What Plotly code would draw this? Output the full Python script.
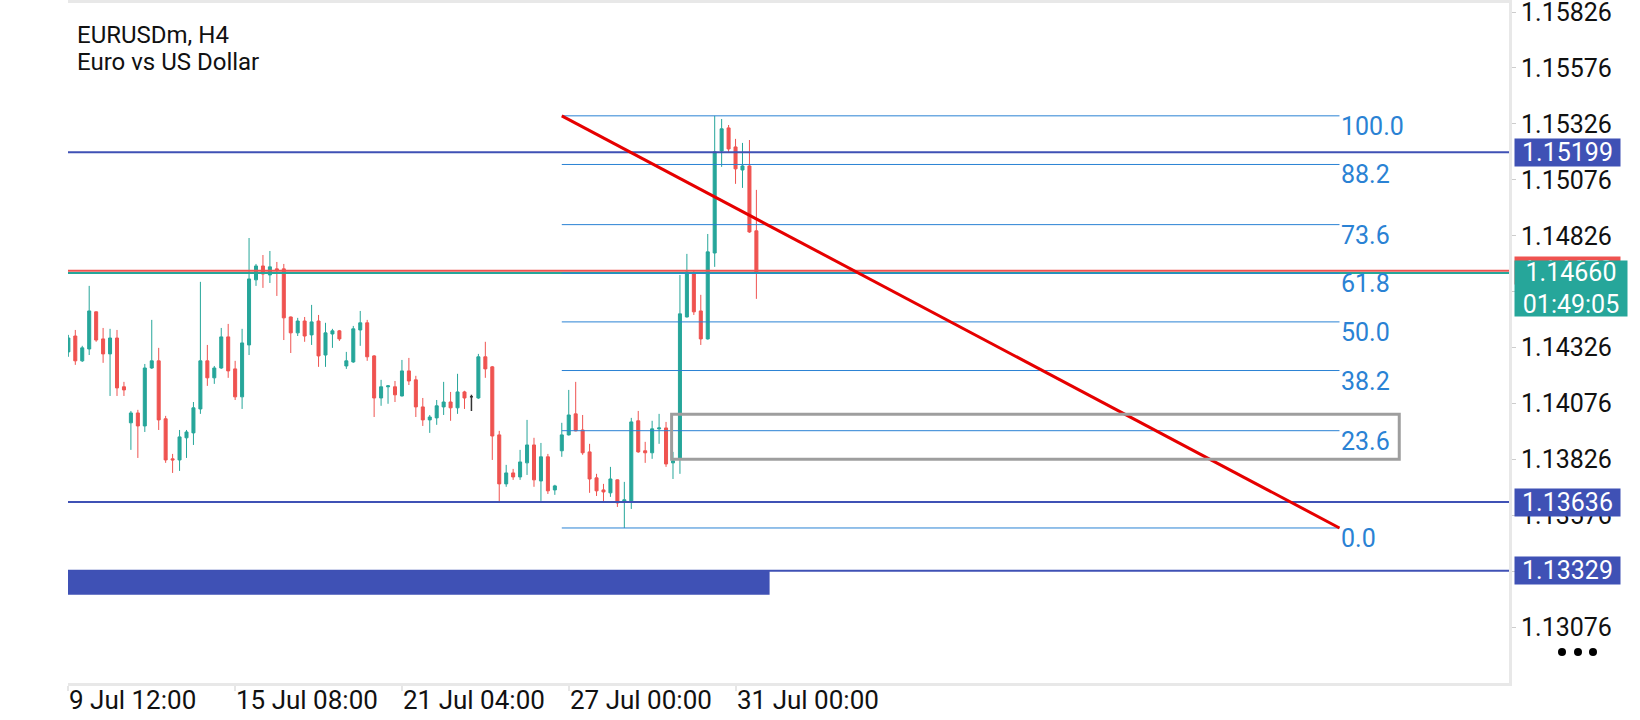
import plotly.graph_objects as go

# H4 bars, index 0 = 9 Jul 12:00 (weekend bars skipped)
bars = list(range(100))
opens = [1.14307, 1.14378, 1.14267, 1.14320, 1.14486, 1.14365, 1.14298, 1.14369, 1.14151, 1.13990,
         1.14034, 1.13976, 1.14235, 1.14267, 1.14008, 1.13829, 1.13824, 1.13923, 1.13945, 1.14052,
         1.14267, 1.14191, 1.14235, 1.14374, 1.14231, 1.14106, 1.14338, 1.14629, 1.14691, 1.14651,
         1.14678, 1.14678, 1.14463, 1.14392, 1.14445, 1.14383, 1.14445, 1.14293, 1.14387, 1.14401,
         1.14244, 1.14262, 1.14405, 1.14437, 1.14289, 1.14101, 1.14151, 1.14151, 1.14110, 1.14222,
         1.14182, 1.14061, 1.14003, 1.14012, 1.14061, 1.14083, 1.14057, 1.14128, 1.14106, 1.14101,
         1.14285, 1.14240, 1.13936, 1.13717, 1.13766, 1.13748, 1.13811, 1.13891, 1.13730, 1.13838,
         1.13690, 1.13865, 1.13936, 1.14030, 1.13958, 1.13860, 1.13744, 1.13690, 1.13677, 1.13735,
         1.13637, 1.13641, 1.13999, 1.13865, 1.13856, 1.13963, 1.13967, 1.13811, 1.13829, 1.14463,
         1.14655, 1.14490, 1.14365, 1.14749, 1.15205, 1.15308, 1.15223, 1.15120, 1.15138, 1.14848]
highs = [1.14383, 1.14405, 1.14334, 1.14602, 1.14488, 1.14414, 1.14410, 1.14405, 1.14173, 1.14043,
         1.14048, 1.14253, 1.14450, 1.14325, 1.14021, 1.13851, 1.13958, 1.13958, 1.14083, 1.14620,
         1.14338, 1.14244, 1.14414, 1.14432, 1.14267, 1.14410, 1.14816, 1.14700, 1.14740, 1.14758,
         1.14709, 1.14700, 1.14465, 1.14459, 1.14463, 1.14517, 1.14472, 1.14437, 1.14410, 1.14405,
         1.14307, 1.14423, 1.14490, 1.14450, 1.14293, 1.14182, 1.14159, 1.14177, 1.14271, 1.14280,
         1.14200, 1.14101, 1.14025, 1.14092, 1.14173, 1.14128, 1.14209, 1.14133, 1.14115, 1.14298,
         1.14352, 1.14244, 1.13954, 1.13802, 1.13784, 1.13869, 1.14003, 1.13923, 1.13900, 1.13851,
         1.13713, 1.13990, 1.14137, 1.14173, 1.14025, 1.13896, 1.13762, 1.13717, 1.13793, 1.13737,
         1.13726, 1.14012, 1.14043, 1.13905, 1.13999, 1.14030, 1.13994, 1.13860, 1.14651, 1.14745,
         1.14673, 1.14562, 1.14834, 1.15362, 1.15348, 1.15321, 1.15259, 1.15241, 1.15254, 1.15031]
lows = [1.14285, 1.14249, 1.14262, 1.14293, 1.14352, 1.14258, 1.14110, 1.14110, 1.14110, 1.13869,
        1.13833, 1.13949, 1.14231, 1.13958, 1.13811, 1.13766, 1.13775, 1.13833, 1.13891, 1.14030,
        1.14155, 1.14164, 1.14231, 1.14191, 1.14092, 1.14052, 1.14293, 1.14602, 1.14593, 1.14615,
        1.14557, 1.14360, 1.14302, 1.14378, 1.14352, 1.14338, 1.14240, 1.14240, 1.14325, 1.14356,
        1.14231, 1.14258, 1.14334, 1.14267, 1.14016, 1.14066, 1.14075, 1.14083, 1.14108, 1.14159,
        1.14016, 1.13976, 1.13945, 1.13981, 1.14025, 1.13999, 1.14030, 1.14052, 1.14043, 1.14097,
        1.14191, 1.13824, 1.13632, 1.13704, 1.13735, 1.13735, 1.13757, 1.13704, 1.13641, 1.13672,
        1.13668, 1.13838, 1.13933, 1.13952, 1.13847, 1.13677, 1.13663, 1.13637, 1.13659, 1.13614,
        1.13520, 1.13605, 1.13856, 1.13811, 1.13829, 1.13896, 1.13793, 1.13739, 1.13762, 1.14461,
        1.14472, 1.14338, 1.14362, 1.14687, 1.15134, 1.15201, 1.15058, 1.15040, 1.14839, 1.14544]
closes = [1.14369, 1.14267, 1.14325, 1.14490, 1.14360, 1.14298, 1.14369, 1.14146, 1.14137, 1.14034,
          1.13976, 1.14235, 1.14267, 1.14003, 1.13824, 1.13824, 1.13927, 1.13949, 1.14057, 1.14267,
          1.14191, 1.14235, 1.14374, 1.14222, 1.14106, 1.14347, 1.14633, 1.14691, 1.14655, 1.14687,
          1.14673, 1.14459, 1.14392, 1.14445, 1.14378, 1.14441, 1.14289, 1.14392, 1.14401, 1.14365,
          1.14267, 1.14410, 1.14437, 1.14285, 1.14101, 1.14151, 1.14155, 1.14115, 1.14222, 1.14177,
          1.14061, 1.14003, 1.14016, 1.14066, 1.14083, 1.14057, 1.14128, 1.14101, 1.14106, 1.14285,
          1.14231, 1.13931, 1.13717, 1.13766, 1.13748, 1.13815, 1.13891, 1.13735, 1.13838, 1.13686,
          1.13708, 1.13936, 1.14025, 1.13954, 1.13856, 1.13739, 1.13686, 1.13681, 1.13739, 1.13632,
          1.13646, 1.13994, 1.13860, 1.13856, 1.13963, 1.13967, 1.13806, 1.13820, 1.14477, 1.14664,
          1.14486, 1.14365, 1.14754, 1.15201, 1.15304, 1.15214, 1.15125, 1.15138, 1.14843, 1.14660]

tick_bars = [0, 24, 48, 72, 96]
tick_labels = ["9 Jul 12:00", "15 Jul 08:00", "21 Jul 04:00", "27 Jul 00:00", "31 Jul 00:00"]
price_ticks = [1.15826, 1.15576, 1.15326, 1.15076, 1.14826, 1.14576,
               1.14326, 1.14076, 1.13826, 1.13576, 1.13326, 1.13076]

level_lines = [1.15199, 1.13636, 1.13329]
bid = 1.14660
ask = 1.14670
countdown = "01:49:05"

fib_low = 1.13520
fib_high = 1.15362
fib_bars = [71, 182.9]
fib_pcts = [0.0, 23.6, 38.2, 50.0, 61.8, 73.6, 88.2, 100.0]

gray_box_bars = [86.8, 191.5]
gray_box_prices = [1.13827, 1.14028]
zone_bars = [-0.05, 100.9]
zone_prices = [1.13221, 1.13329]

UP = "#26a69a"
DOWN = "#ef5350"
NAVY = "#3f51b5"
FIB = "#2a82d4"
FONT = "Roboto"

# plot area in pixels: x 68..1509, y 3..683
PL, PR, PT, PB = 68, 1509, 3, 683


def px_x(px):
    return (px - PL) / (PR - PL)


def px_y(py):
    return (PB - py) / (PB - PT)


doji = [o == c for o, c in zip(opens, closes)]
normal = [not d for d in doji]


def pick(vals, keep):
    return [v if k else None for v, k in zip(vals, keep)]


fig = go.Figure()
fig.add_trace(go.Candlestick(
    x=bars, open=pick(opens, normal), high=pick(highs, normal),
    low=pick(lows, normal), close=pick(closes, normal),
    increasing=dict(line=dict(color=UP, width=1), fillcolor=UP),
    decreasing=dict(line=dict(color=DOWN, width=1), fillcolor=DOWN),
    hoverinfo="skip"))
fig.add_trace(go.Candlestick(
    x=bars, open=pick(opens, doji), high=pick(highs, doji),
    low=pick(lows, doji), close=pick(closes, doji),
    increasing=dict(line=dict(color="#333333", width=1.5), fillcolor="#333333"),
    decreasing=dict(line=dict(color="#333333", width=1.5), fillcolor="#333333"),
    hoverinfo="skip"))

shapes = []
# bid / ask lines
shapes.append(dict(type="line", xref="paper", x0=0, x1=1, yref="y", y0=ask, y1=ask,
                   line=dict(color=DOWN, width=2)))
shapes.append(dict(type="line", xref="paper", x0=0, x1=1, yref="y", y0=bid, y1=bid,
                   line=dict(color=UP, width=2)))
# horizontal levels
for p in level_lines:
    shapes.append(dict(type="line", xref="paper", x0=0, x1=1, yref="y", y0=p, y1=p,
                       line=dict(color=NAVY, width=2)))
# blue zone
shapes.append(dict(type="rect", x0=zone_bars[0], x1=zone_bars[1], y0=zone_prices[0], y1=zone_prices[1],
                   fillcolor=NAVY, line=dict(width=0)))
# fibonacci levels
for pct in fib_pcts:
    lv = fib_low + pct / 100 * (fib_high - fib_low)
    shapes.append(dict(type="line", x0=fib_bars[0], x1=fib_bars[1], y0=lv, y1=lv,
                       line=dict(color=FIB, width=1)))
# fib trend line
shapes.append(dict(type="line", x0=fib_bars[0], x1=fib_bars[1], y0=fib_high, y1=fib_low,
                   line=dict(color="#e60000", width=3)))
# gray rectangle
shapes.append(dict(type="rect", x0=gray_box_bars[0], x1=gray_box_bars[1],
                   y0=gray_box_prices[0], y1=gray_box_prices[1],
                   line=dict(color="#9e9e9e", width=3)))
# three dots at the lower right
for cx in [1562, 1578, 1593]:
    shapes.append(dict(type="circle", xref="paper", yref="paper",
                       x0=px_x(cx - 4), x1=px_x(cx + 4), y0=px_y(656), y1=px_y(648),
                       fillcolor="#000000", line=dict(width=0)))

annotations = []
annotations.append(dict(xref="paper", yref="paper", x=px_x(75), y=px_y(35), xanchor="left",
                        yanchor="middle", showarrow=False, text="EURUSDm, H4",
                        font=dict(family=FONT, size=24, color="#111111")))
annotations.append(dict(xref="paper", yref="paper", x=px_x(75), y=px_y(62), xanchor="left",
                        yanchor="middle", showarrow=False, text="Euro vs US Dollar",
                        font=dict(family=FONT, size=24, color="#111111")))
# time labels, left-aligned on their ticks
for b, t in zip(tick_bars, tick_labels):
    annotations.append(dict(x=b, yref="paper", y=px_y(700), xanchor="left", yanchor="middle",
                            showarrow=False, text=t, borderpad=0,
                            font=dict(family=FONT, size=26, color="#111111")))
for pct in fib_pcts:
    lv = fib_low + pct / 100 * (fib_high - fib_low)
    annotations.append(dict(x=fib_bars[1], y=lv, xanchor="left", yanchor="top", yshift=6,
                            showarrow=False, text=f"{pct:.1f}",
                            font=dict(family=FONT, size=25, color=FIB)))
# price boxes on the axis
for p in level_lines:
    annotations.append(dict(xref="paper", x=px_x(1514), y=p, xanchor="left", yanchor="middle",
                            showarrow=False, text=f"{p:.5f}", bgcolor=NAVY, borderpad=0,
                            width=105, height=27, font=dict(family=FONT, size=25, color="white")))
annotations.append(dict(xref="paper", x=px_x(1514), y=ask, xanchor="left", yanchor="middle",
                        showarrow=False, text=f"{ask:.5f}", bgcolor=DOWN, borderpad=0,
                        width=105, height=27, font=dict(family=FONT, size=25, color="white")))
annotations.append(dict(xref="paper", x=px_x(1514), y=bid, xanchor="left", yanchor="top", yshift=13,
                        showarrow=False, text=f"{bid:.5f}<br>{countdown}", bgcolor=UP, borderpad=0,
                        width=112, height=55, align="center",
                        font=dict(family=FONT, size=25, color="white")))

fig.update_layout(
    width=1640, height=720,
    margin=dict(l=PL, r=1640 - PR, t=PT, b=720 - PB),
    paper_bgcolor="white", plot_bgcolor="white",
    showlegend=False, boxgap=0.38,
    shapes=shapes, annotations=annotations,
    xaxis=dict(range=[-0.05, 207.29], tickvals=tick_bars, showticklabels=False,
               ticks="outside", ticklen=5, tickcolor="#e6e6e6", tickwidth=2,
               showline=True, linecolor="#e8e8e8", linewidth=3, mirror=True,
               showgrid=False, zeroline=False, automargin=False,
               rangeslider=dict(visible=False)),
    yaxis=dict(side="right", range=[1.128271, 1.158663], tickvals=price_ticks,
               ticktext=[f"{v:.5f}" for v in price_ticks], ticks="outside", ticklen=4,
               tickcolor="#cccccc", showline=True, linecolor="#e8e8e8", linewidth=3,
               showgrid=False, zeroline=False, automargin=False, ticklabeloverflow="allow",
               tickfont=dict(family=FONT, size=25, color="#111111")),
)

fig.write_html("out.html", config={"displayModeBar": False},
               post_script="document.body.style.margin='0';")
